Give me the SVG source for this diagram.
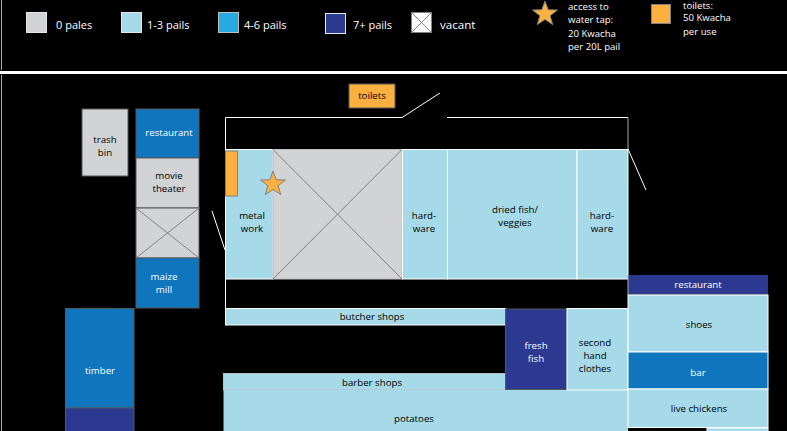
<svg xmlns="http://www.w3.org/2000/svg" width="787" height="431" viewBox="0 0 787 431">
<style>
text{font-family:"Open Sans","Noto Sans","Liberation Sans",sans-serif;font-size:9.7px;text-anchor:middle;fill:#000}
.w{fill:#fff}
.lg{font-size:11px;text-anchor:start;fill:#fff}
.sm{font-size:9.6px;text-anchor:start;fill:#fff}
.gr{fill:#d1d3d4}
.lb{fill:#a6dae9}
.bl{fill:#0f75bc}
.cy{fill:#27aae1}
.nv{fill:#2b3990}
.or{fill:#fbb040}
.sw{stroke:#fff;stroke-width:1}
.sg{stroke:#58595b;stroke-width:1}
.sl{stroke:#bcbec0;stroke-width:1}
.x{stroke:#808285;stroke-width:1;fill:none}
.ln{stroke:#fff;stroke-width:1;fill:none}
</style>
<defs>
<polygon id="star" points="0,-13 3.2,-4.2 12.5,-4 5.1,1.700 7.700,10.600 0,5.400 -7.700,10.600 -5.100,1.700 -12.500,-4 -3.200,-4.200" fill="#fbb040" stroke="#808285" stroke-width="1"/>
</defs>
<rect width="787" height="431" fill="#000"/>
<g id="frame">
<rect x="0" y="71" width="787" height="3" fill="#fff"/>
<path d="M1.500 0V70M1.500 75V431" stroke="#a7a9ac" stroke-width="1" fill="none"/>
</g>
<g id="legend">
<rect class="gr" x="26.500" y="12.500" width="20" height="20" stroke="#e6e7e8"/>
<text class="lg" x="56" y="29">0 pales</text>
<rect class="lb" x="121.500" y="12.500" width="20" height="20" stroke="#e6e7e8"/>
<text class="lg" x="147" y="29">1-3 pails</text>
<rect class="cy" x="218.500" y="12.500" width="20" height="20" stroke="#bcbec0"/>
<text class="lg" x="244" y="29">4-6 pails</text>
<rect class="nv" x="325.500" y="13.500" width="20" height="20" stroke="#e6e7e8"/>
<text class="lg" x="353" y="29">7+ pails</text>
<rect x="411.500" y="12.500" width="20" height="20" fill="#fff" stroke="#808285"/>
<path class="x" d="M411.500 12.500L431.500 32.500M431.500 12.500L411.500 32.500"/>
<text class="lg" x="440" y="29" style="font-size:11.600px">vacant</text>
<use href="#star" x="545" y="14"/>
<text class="sm" x="568" y="10">access to</text>
<text class="sm" x="568" y="23">water tap:</text>
<text class="sm" x="568" y="37">20 Kwacha</text>
<text class="sm" x="568" y="50">per 20L pail</text>
<rect class="or" x="651.500" y="4.500" width="19" height="19" stroke="#808285"/>
<text class="sm" x="683" y="9">toilets:</text>
<text class="sm" x="683" y="21">50 Kwacha</text>
<text class="sm" x="683" y="35">per use</text>
</g>
<g id="connectors">
<path class="ln" d="M402 117.500H225.500V308M447 117.500H628"/>
<path class="ln" d="M402 117.500L440 93" stroke="#e6e7e8"/>
<path class="ln" d="M225 250L212 211"/>
<path class="ln" d="M628 149L646 190"/>
<path d="M628 117.500V149" stroke="#a7a9ac" fill="none"/>
</g>
<g id="toilets"><rect class="or sg" x="349" y="84" width="46" height="24"/><text x="372" y="99">toilets</text></g>
<g id="trash-bin"><rect class="gr sg" x="82" y="109" width="46" height="67"/><text x="105" y="143">trash</text><text x="105" y="156">bin</text></g>
<g id="restaurant-1"><rect class="bl sg" x="136" y="109" width="63" height="49"/><text class="w" x="169" y="136">restaurant</text></g>
<g id="movie-theater"><rect class="gr sg" x="136" y="158" width="63" height="50"/><text x="169" y="179">movie</text><text x="169" y="192">theater</text></g>
<g id="vacant-1"><rect class="gr sg" x="136" y="208" width="63" height="50"/><path class="x" d="M136 208L199 258M199 208L136 258"/></g>
<g id="maize-mill"><rect class="bl sg" x="136" y="258" width="63" height="50"/><text class="w" x="164" y="280">maize</text><text class="w" x="164" y="293">mill</text></g>
<g id="timber"><rect class="bl sg" x="65.500" y="308.500" width="68.500" height="99.500"/><text class="w" x="100" y="374">timber</text></g>
<g id="navy-stall"><rect class="nv sg" x="65.500" y="408" width="68.500" height="24"/></g>
<g id="metal-work"><rect class="lb sw" x="225.500" y="149.500" width="47.500" height="129.500"/><text x="252" y="219">metal</text><text x="252" y="232">work</text></g>
<g id="vacant-2"><rect class="gr sl" x="273" y="149.500" width="129" height="129.500"/><path class="x" d="M273 149.500L402 279M402 149.500L273 279"/></g>
<g id="water-tap"><use href="#star" x="273" y="184"/></g>
<g id="toilets-2"><rect class="or" x="225.500" y="151" width="12" height="45" stroke="#808285"/></g>
<g id="hardware-1"><rect class="lb sw" x="402.500" y="149.500" width="45" height="129.500"/><text x="424" y="219">hard-</text><text x="424" y="232">ware</text></g>
<g id="dried-fish"><rect class="lb sw" x="447.500" y="149.500" width="129.500" height="129.500"/><text x="515" y="213">dried fish/</text><text x="515" y="226">veggies</text></g>
<g id="hardware-2"><rect class="lb sw" x="577" y="149.500" width="51" height="129.500"/><text x="602" y="219">hard-</text><text x="602" y="232">ware</text></g>
<g id="butcher-shops"><rect class="lb sw" x="225.500" y="308.500" width="280" height="16.500"/><text x="372" y="320">butcher shops</text></g>
<g id="barber-shops"><rect class="lb sl" x="223.500" y="373.500" width="282" height="16.500"/><text x="372" y="386">barber shops</text></g>
<g id="potatoes"><rect class="lb" x="223.500" y="390" width="404.500" height="42"/><text x="414" y="422">potatoes</text></g>
<g id="fresh-fish"><rect class="nv sg" x="505.500" y="309" width="61.500" height="80.500"/><text class="w" x="536" y="349">fresh</text><text class="w" x="536" y="362">fish</text></g>
<g id="second-hand"><rect class="lb sw" x="567" y="308.500" width="61" height="81.500"/><text x="595" y="346">second</text><text x="595" y="359">hand</text><text x="595" y="372">clothes</text></g>
<g id="restaurant-2"><rect class="nv" x="628" y="275" width="140" height="19"/><path d="M628 275V295" stroke="#a7a9ac"/><path d="M628 294.500H768" stroke="#58595b"/><text class="w" x="698" y="288">restaurant</text></g>
<g id="shoes"><rect class="lb sw" x="628" y="295" width="140" height="57"/><text x="699" y="328">shoes</text></g>
<g id="bar"><rect class="bl sw" x="628" y="352" width="140" height="37"/><text class="w" x="698" y="376">bar</text></g>
<g id="live-chickens"><rect class="lb sw" x="628" y="389" width="140" height="38.500"/><text x="699" y="412">live chickens</text></g>
<g id="bottom-stall"><rect class="lb sw" x="707" y="428" width="61" height="5"/></g>
</svg>
